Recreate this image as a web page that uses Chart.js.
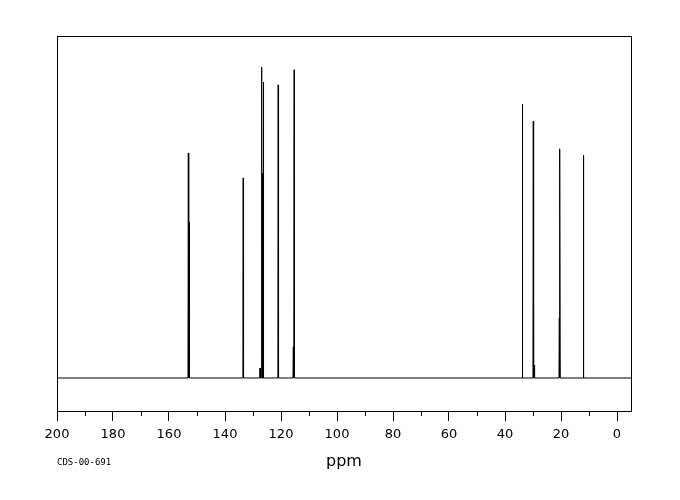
<!DOCTYPE html>
<html>
<head>
<meta charset="utf-8">
<script src="https://cdn.jsdelivr.net/npm/chart.js@4/dist/chart.umd.min.js"></script>
<style>
    body { margin: 0; background: #fff; }
    #wrap { position: relative; width: 680px; height: 500px; }
    #code { position: absolute; left: 57px; top: 457px; font: 9px "DejaVu Sans Mono", monospace; color: #000; }
</style>
</head>
<body>
<div id="wrap">
    <canvas id="nmr" width="680" height="500"></canvas>
    <div id="code">CDS-00-691</div>
</div>
<script>
// peak positions (ppm) and heights (% of plot height above baseline)
const peakPpm = [153.1, 152.8, 133.5, 127.5, 126.9, 126.6, 126.3, 121.0, 115.6, 115.3,
                 33.8, 29.9, 29.5, 20.4, 20.6, 12.0];
const peakHeight = [65.8, 45.6, 58.5, 2.9, 90.9, 59.9, 86.5, 85.7, 9.1, 90.1,
                    80.1, 75.1, 3.8, 67.0, 17.5, 65.2];
const majorTicks = [0, 20, 40, 60, 80, 100, 120, 140, 160, 180, 200];
const minorTicks = [10, 30, 50, 70, 90, 110, 130, 150, 170, 190];

// stick spectrum: each peak is a narrow line up from the baseline
let pts = [{ x: 205, y: 0 }, { x: -5, y: 0 }];
peakPpm.forEach((p, i) => {
    pts.push({ x: p + 0.12, y: 0 });
    pts.push({ x: p, y: peakHeight[i] });
    pts.push({ x: p - 0.12, y: 0 });
});
pts.sort((a, b) => b.x - a.x);

const framePlugin = {
    id: 'frame',
    afterDraw(chart) {
        const ctx = chart.ctx, a = chart.chartArea, sx = chart.scales.x;
        ctx.save();
        ctx.strokeStyle = '#000';
        ctx.lineWidth = 1;
        ctx.strokeRect(Math.round(a.left) + 0.5, Math.round(a.top) + 0.5,
            Math.round(a.right - a.left), Math.round(a.bottom - a.top));
        ctx.beginPath();
        minorTicks.forEach(v => {
            const px = Math.round(sx.getPixelForValue(v)) + 0.5;
            ctx.moveTo(px, a.bottom);
            ctx.lineTo(px, a.bottom + 5);
        });
        ctx.stroke();
        ctx.restore();
    }
};

new Chart(document.getElementById('nmr'), {
    type: 'line',
    data: {
        datasets: [{
            data: pts,
            borderColor: '#000',
            borderWidth: 1,
            pointRadius: 0,
            tension: 0,
            fill: false
        }]
    },
    options: {
        responsive: false,
        animation: false,
        layout: { padding: { left: 57, right: 49, top: 36, bottom: 19 } },
        plugins: { legend: { display: false }, tooltip: { enabled: false } },
        scales: {
            x: {
                type: 'linear',
                reverse: true,
                min: -5,
                max: 200,
                afterBuildTicks: s => { s.ticks = majorTicks.map(v => ({ value: v })); },
                afterFit: s => { s.height = 70; },
                grid: { drawOnChartArea: false, color: '#000', tickLength: 10 },
                border: { color: '#000' },
                ticks: {
                    color: '#000',
                    padding: 6,
                    maxRotation: 0,
                    autoSkip: false,
                    font: { family: 'DejaVu Sans', size: 13 }
                },
                title: {
                    display: true,
                    text: 'ppm',
                    color: '#000',
                    font: { family: 'DejaVu Sans', size: 16 },
                    padding: { top: 4, bottom: 10 }
                }
            },
            y: {
                display: false,
                min: -9.65,
                max: 100
            }
        }
    },
    plugins: [framePlugin]
});
</script>
</body>
</html>
